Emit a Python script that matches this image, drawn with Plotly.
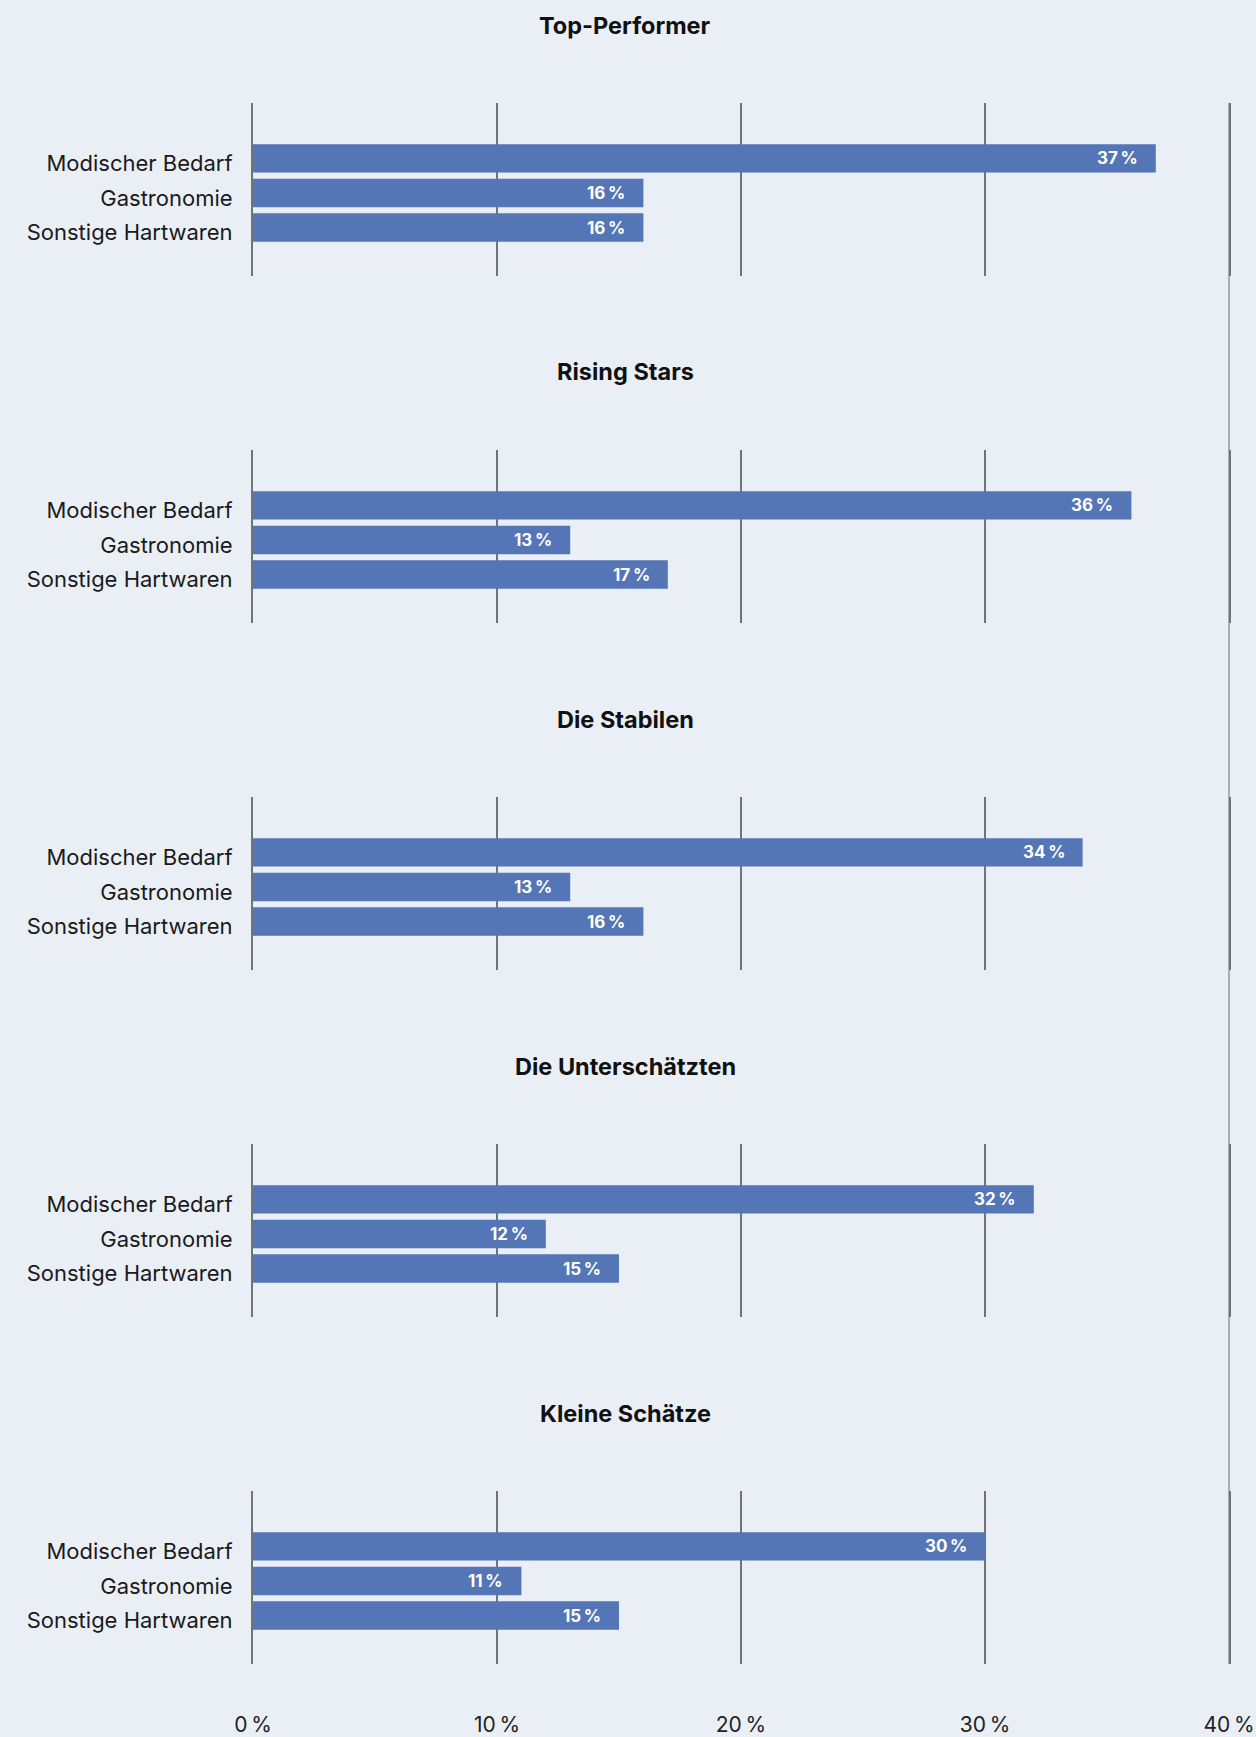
import plotly.graph_objects as go

# Sortimentsanteile je Standort-Cluster (in Prozent)
groups = ["Top-Performer", "Rising Stars", "Die Stabilen", "Die Unterschätzten", "Kleine Schätze"]
categories = ["Modischer Bedarf", "Gastronomie", "Sonstige Hartwaren"]

top_performer = [37, 16, 16]
rising_stars = [36, 13, 17]
die_stabilen = [34, 13, 16]
die_unterschaetzten = [32, 12, 15]
kleine_schaetze = [30, 11, 15]

tick_values = [0, 10, 20, 30, 40]
tick_labels = ["0\u2009%", "10\u2009%", "20\u2009%", "30\u2009%", "40\u2009%"]

series = [top_performer, rising_stars, die_stabilen, die_unterschaetzten, kleine_schaetze]

# Seitenmaße und Raster (Pixel)
W, H = 1256, 1737
ML, MR = 253, 27
PANEL_TOP, PANEL_H, PANEL_STEP = 103, 173, 347

BG = "#EAEFF6"
BAR = "#5475B6"
GRID = "#707479"
TEXT = "#1a1a1a"
FONT = "Inter"


def py(px):
    return 1 - px / H


fig = go.Figure()
annotations = []
layout_axes = {}

for k, (name, vals) in enumerate(zip(groups, series)):
    idx = "" if k == 0 else str(k + 1)
    xa, ya = "x" + idx, "y" + idx
    top = PANEL_TOP + k * PANEL_STEP
    bottom = top + PANEL_H

    fig.add_trace(go.Bar(
        x=vals, y=categories, orientation="h",
        marker=dict(color=BAR, line=dict(width=0)),
        xaxis=xa, yaxis=ya, showlegend=False, hoverinfo="x+y",
    ))

    last = k == len(groups) - 1
    layout_axes["xaxis" + idx] = dict(
        domain=[0, 1], anchor=ya, range=[0, 40], fixedrange=True,
        tickvals=tick_values, ticktext=tick_labels,
        showticklabels=last, ticks="", ticklabelstandoff=46 if last else 0,
        ticklabeloverflow="allow",
        tickfont=dict(family=FONT, size=21, color="#222"),
        showgrid=True, gridcolor=GRID, gridwidth=2,
        zeroline=False, showline=False, layer="below traces",
    )
    # Die senkrechten Linien bei 0 % und 40 % sind die Achsenlinien der y-Achse
    layout_axes["yaxis" + idx] = dict(
        domain=[py(bottom), py(top)], anchor=xa,
        type="category", categoryorder="array", categoryarray=categories,
        range=[3.4, -1.6], fixedrange=True,
        showgrid=False, zeroline=False, ticks="",
        showline=True, mirror=True, linecolor=GRID, linewidth=2,
        layer="below traces",
        ticklabelstandoff=14, ticklabelshift=-5,
        tickfont=dict(family=FONT, size=22, color=TEXT),
    )

    # Überschrift der Gruppe
    annotations.append(dict(
        text=name, xref="paper", yref="paper",
        x=(625 - ML) / (W - ML - MR), y=py(top - 78),
        xanchor="center", yanchor="middle", showarrow=False,
        font=dict(family=FONT, size=23.5, color="#111", weight="bold"),
    ))

    # Wertbeschriftung innen am Balkenende
    for cat, v in zip(categories, vals):
        annotations.append(dict(
            text=f"{v}\u2009%", xref=xa, yref=ya, x=v, y=cat,
            xanchor="right", yanchor="middle", xshift=-16, showarrow=False,
            font=dict(family=FONT, size=17, color="white", weight="bold"),
        ))

fig.update_layout(
    width=W, height=H, autosize=False,
    margin=dict(l=ML, r=MR, t=0, b=0),
    paper_bgcolor=BG, plot_bgcolor=BG,
    bargap=0.18,
    annotations=annotations,
    shapes=[dict(
        type="line", xref="paper", yref="paper", x0=1, x1=1,
        y0=py(PANEL_TOP + 4 * PANEL_STEP + PANEL_H), y1=py(PANEL_TOP),
        line=dict(color="#A9AEB5", width=2), layer="below",
    )],
    **layout_axes,
)

fig.write_html("out.html", config={"displayModeBar": False})
